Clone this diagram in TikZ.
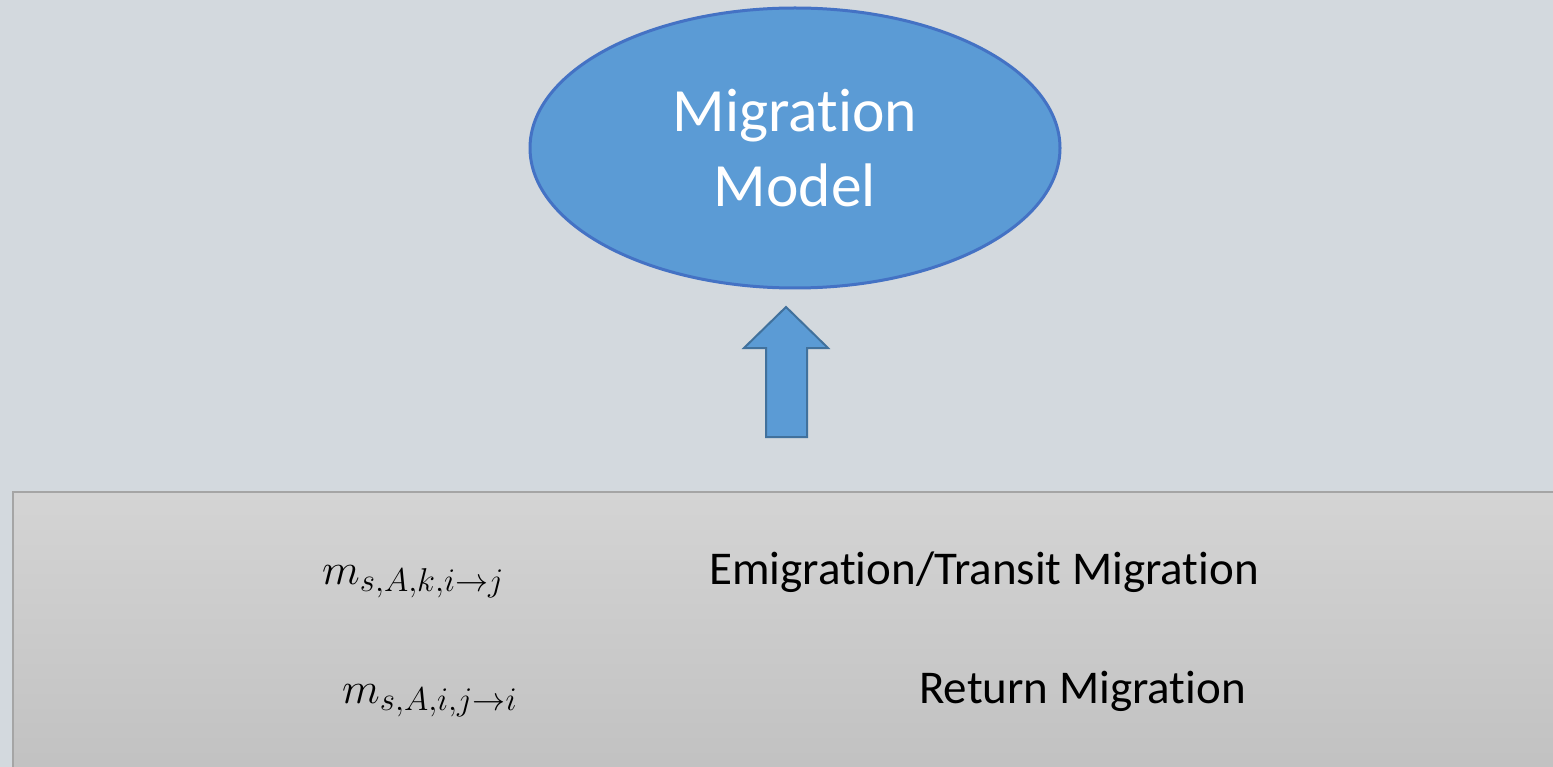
\RequirePackage{fix-cm}
\documentclass[tikz,border=0pt]{standalone}
\usepackage{fontspec}
\setmainfont{Carlito}[RawFeature={-liga;-calt;-dlig;-clig}]
\usetikzlibrary{shapes.geometric}
\DeclareMathSizes{44}{44}{33}{26}
% split "t" and "i" so the font does not join them
\newcommand\ti{t\kern0pt i}

\definecolor{pagebg}{HTML}{D3D9DE}
\definecolor{modelfill}{HTML}{5B9BD5}
\definecolor{modelline}{HTML}{4472C4}
\definecolor{arrowline}{HTML}{41719C}
\definecolor{paneltop}{HTML}{D4D4D4}
\definecolor{panelbottom}{HTML}{C0C0C0}
\definecolor{panelline}{HTML}{A5A5A5}

\tikzset{
  modelnode/.style={ellipse, draw=modelline, line width=3pt, fill=modelfill,
    minimum width=530pt, minimum height=280pt, inner sep=0pt},
  modeltext/.style={text=white, align=center, inner sep=0pt,
    font=\fontsize{61.5}{75}\selectfont},
  blockarrow/.style={fill=modelfill, draw=arrowline, line width=2pt, line join=miter},
  panel/.style={top color=paneltop, bottom color=panelbottom, draw=panelline, line width=1.5pt},
  termtext/.style={anchor=base west, inner sep=0pt, font=\fontsize{44}{52}\selectfont},
  labeltext/.style={anchor=base west, inner sep=0pt, font=\fontsize{47}{56}\selectfont}
}

\begin{document}
\begin{tikzpicture}[x=1pt, y=-1pt]
  % canvas
  \useasboundingbox (0,0) rectangle (1553,767);
  \clip (0,0) rectangle (1553,767);
  \fill[pagebg] (0,0) rectangle (1553,767);

  % model ellipse
  \node[modelnode] (model) at (795,148) {};
  \node[modeltext] (modeltitle) at (model.center) {Migra\ti on\\Model};

  % upward block arrow feeding the model
  \draw[blockarrow] (786,307) -- (828,348) -- (807,348) -- (807,437)
    -- (766,437) -- (766,348) -- (744,348) -- cycle;

  % panel with the migration terms
  \draw[panel] (13,492) rectangle (1580,790);
  \node[termtext] (emigterm) at (322,584) {$m_{s,A,k,i\rightarrow j}$};
  \node[labeltext] (emiglabel) at (709,584) {Emigra\ti on/Transit Migra\ti on};
  \node[termtext] (retterm) at (342,703) {$m_{s,A,i,j\rightarrow i}$};
  \node[labeltext] (retlabel) at (919,703) {Return Migra\ti on};
\end{tikzpicture}
\end{document}
